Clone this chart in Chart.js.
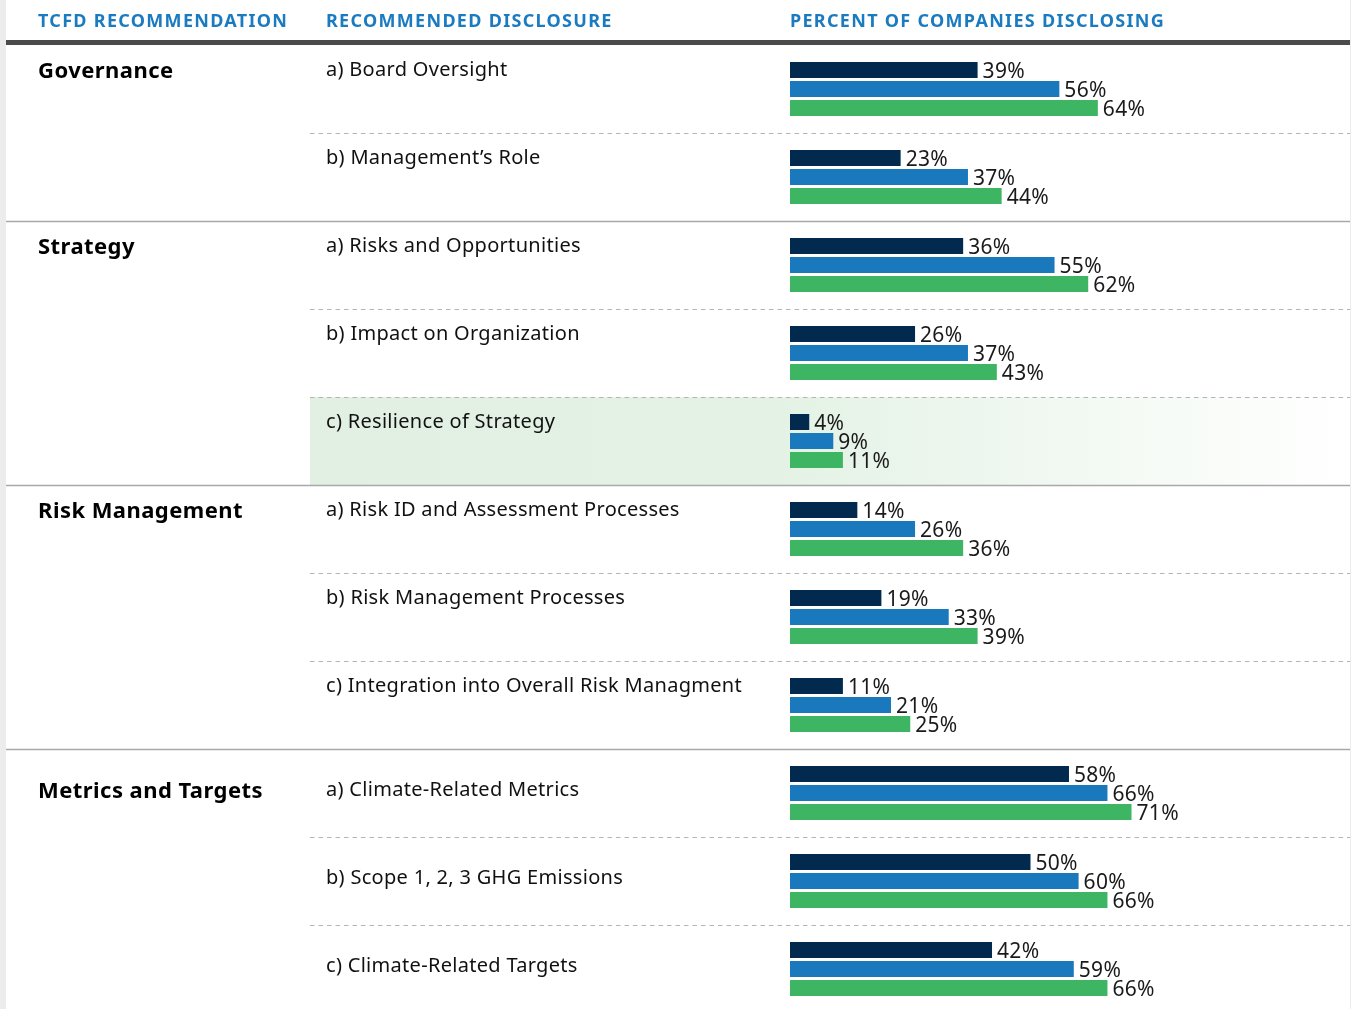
<!DOCTYPE html>
<html>
<head>
<meta charset="utf-8">
<script src="https://cdn.jsdelivr.net/npm/chart.js@4.4.1/dist/chart.umd.min.js"></script>
<style>
  html, body { margin: 0; padding: 0; background: #fff; overflow: hidden; }
  #wrap { position: relative; width: 1351px; height: 1016px; }
</style>
</head>
<body>
<div id="wrap"><canvas id="chart"></canvas></div>
<script>
// table text
const headers = ['TCFD RECOMMENDATION', 'RECOMMENDED DISCLOSURE', 'PERCENT OF COMPANIES DISCLOSING'];
const groups = ['Governance', 'Strategy', 'Risk Management', 'Metrics and Targets'];
const groupSizes = [2, 3, 3, 3];
const disclosures = [
  'a) Board Oversight',
  'b) Management’s Role',
  'a) Risks and Opportunities',
  'b) Impact on Organization',
  'c) Resilience of Strategy',
  'a) Risk ID and Assessment Processes',
  'b) Risk Management Processes',
  'c) Integration into Overall Risk Managment',
  'a) Climate-Related Metrics',
  'b) Scope 1, 2, 3 GHG Emissions',
  'c) Climate-Related Targets'
];
// percent of companies disclosing, three series per row
const seriesDark  = [39, 23, 36, 26, 4, 14, 19, 11, 58, 50, 42];
const seriesBlue  = [56, 37, 55, 37, 9, 26, 33, 21, 66, 60, 59];
const seriesGreen = [64, 44, 62, 43, 11, 36, 39, 25, 71, 66, 66];
const highlightRow = 4;

// per-group vertical nudge of the row texts (the last block sits lower)
const groupTextShift = [0, 0, 0, 16];

const FONT = '"Noto Sans", sans-serif';
const LEFT = 6, RIGHT = 1350;

const tablePlugin = {
  id: 'table',
  beforeDraw(chart) {
    const { ctx, scales: { y } } = chart;
    const H = chart.height;
    const half = (y.getPixelForValue(1) - y.getPixelForValue(0)) / 2;
    ctx.save();
    ctx.fillStyle = '#fff';
    ctx.fillRect(0, 0, chart.width, H);
    ctx.fillStyle = '#ececec';
    ctx.fillRect(0, 0, LEFT, H);
    ctx.fillRect(RIGHT, 0, 1, H);

    // highlighted row
    const hy = y.getPixelForValue(highlightRow);
    const g = ctx.createLinearGradient(310, 0, RIGHT, 0);
    g.addColorStop(0, '#e1f0e2');
    g.addColorStop(0.45, '#e4f2e5');
    g.addColorStop(1, '#ffffff');
    ctx.fillStyle = g;
    ctx.fillRect(310, hy - half, RIGHT - 310, half * 2);

    // header rule
    ctx.fillStyle = '#4b4b4b';
    ctx.fillRect(LEFT, 40, RIGHT - LEFT, 5);

    // row separators
    const ends = [];
    groupSizes.reduce((s, n) => { ends.push(s + n - 1); return s + n; }, 0);
    for (let i = 0; i < disclosures.length - 1; i++) {
      const ly = Math.round(y.getPixelForValue(i) + half) + 0.5;
      ctx.beginPath();
      if (ends.includes(i)) {
        ctx.setLineDash([]);
        ctx.strokeStyle = '#a9a9a9';
        ctx.lineWidth = 1.5;
        ctx.moveTo(LEFT, ly);
      } else {
        ctx.setLineDash([4.5, 4]);
        ctx.strokeStyle = '#b4b4b4';
        ctx.lineWidth = 1;
        ctx.moveTo(310, ly);
      }
      ctx.lineTo(RIGHT, ly);
      ctx.stroke();
    }
    ctx.restore();
  },
  afterDatasetsDraw(chart) {
    const { ctx, scales: { y } } = chart;
    const half = (y.getPixelForValue(1) - y.getPixelForValue(0)) / 2;
    ctx.save();
    ctx.textAlign = 'left';
    ctx.textBaseline = 'alphabetic';

    // headers
    ctx.fillStyle = '#1b7bc0';
    ctx.font = 'bold 18px ' + FONT;
    ctx.letterSpacing = '1.3px';
    const hx = [38, 326, 790];
    headers.forEach((t, i) => ctx.fillText(t, hx[i], 27));

    // group + disclosure labels
    let row = 0;
    groups.forEach((name, gi) => {
      const shift = groupTextShift[gi];
      const top = y.getPixelForValue(row) - half;
      ctx.fillStyle = '#000';
      ctx.font = 'bold 22px ' + FONT;
      ctx.letterSpacing = '0.45px';
      ctx.fillText(name, 38, top + 33 + shift);
      ctx.font = '20px ' + FONT;
      ctx.letterSpacing = '0.3px';
      ctx.fillStyle = '#111';
      for (let k = 0; k < groupSizes[gi]; k++) {
        const rt = y.getPixelForValue(row + k) - half;
        ctx.fillText(disclosures[row + k], 326, rt + 31 + shift);
      }
      row += groupSizes[gi];
    });

    // value labels
    ctx.font = '21px ' + FONT;
    ctx.letterSpacing = '0.3px';
    ctx.fillStyle = '#1a1a1a';
    chart.data.datasets.forEach((ds, di) => {
      chart.getDatasetMeta(di).data.forEach((bar, i) => {
        ctx.fillText(ds.data[i] + '%', bar.x + 5, bar.y + bar.height / 2);
      });
    });
    ctx.restore();
  }
};

new Chart(document.getElementById('chart'), {
  type: 'bar',
  data: {
    labels: disclosures,
    datasets: [
      { label: 'Series 1', data: seriesDark, backgroundColor: '#012a4e' },
      { label: 'Series 2', data: seriesBlue, backgroundColor: '#1a79bd' },
      { label: 'Series 3', data: seriesGreen, backgroundColor: '#3eb562' }
    ]
  },
  options: {
    indexAxis: 'y',
    responsive: true,
    maintainAspectRatio: false,
    animation: false,
    categoryPercentage: 57 / 88,
    barPercentage: 16 / 19,
    layout: { padding: { left: 790, right: 80, top: 45, bottom: 3 } },
    scales: {
      x: { display: false, min: 0, max: 100 },
      y: { display: false }
    },
    plugins: { legend: { display: false }, tooltip: { enabled: false } }
  },
  plugins: [tablePlugin]
});
</script>
</body>
</html>
